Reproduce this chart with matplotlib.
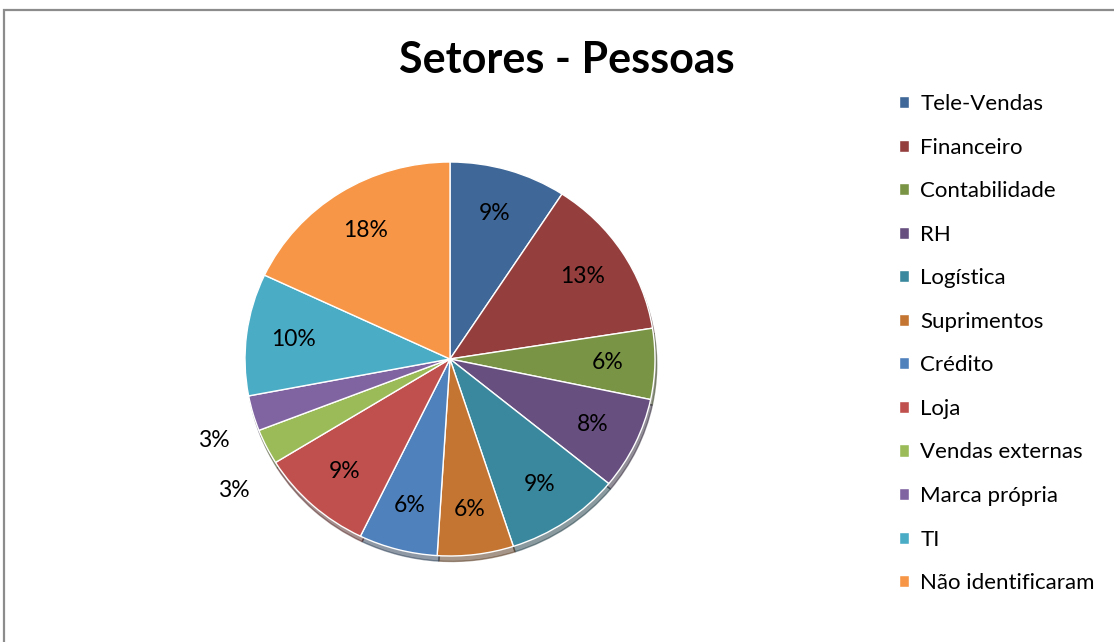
import matplotlib.pyplot as plt
from matplotlib.patches import Rectangle
import numpy as np

plt.rcParams['font.family'] = ['Lato', 'DejaVu Sans']

setores = ["Tele-Vendas", "Financeiro", "Contabilidade", "RH", "Logística",
           "Suprimentos", "Crédito", "Loja", "Vendas externas", "Marca própria",
           "TI", "Não identificaram"]
percentuais = [9.2, 13.3, 5.8, 7.6, 9.1, 6.0, 6.2, 9.0, 2.9, 2.9, 10.0, 18.0]
cores = ["#3F6797", "#943F3D", "#7A9445", "#674F80", "#3A889D", "#C57532",
         "#4F81BD", "#C0504D", "#9BBB59", "#8064A2", "#4BACC6", "#F79646"]

fig = plt.figure(figsize=(11.14, 6.42), dpi=100)

# frame like the Excel chart area (only top/left visible)
fig.patches.append(Rectangle((4 / 1114, -0.1), 1.2, (642 - 10) / 642 + 0.1,
                             transform=fig.transFigure, fill=False,
                             edgecolor="#8C8C8C", linewidth=1.6))

ax = fig.add_axes([(450 - 205) / 1114, (642 - 359 - 197) / 642, 410 / 1114, 394 / 642])
wedges, _ = ax.pie(percentuais, colors=cores, startangle=90, counterclock=False,
                   radius=1, wedgeprops=dict(edgecolor="white", linewidth=1.0),
                   shadow=dict(ox=0.006, oy=-0.02, shade=0.6))
ax.set_aspect("auto")
ax.set_xlim(-1, 1)
ax.set_ylim(-1, 1)

# data labels: inside for big slices, outside for the tiny ones
for w, p in zip(wedges, percentuais):
    ang = np.deg2rad((w.theta1 + w.theta2) / 2)
    if p < 4:
        x, y = 1.5 * np.cos(ang) + 0.29, 1.5 * np.sin(ang)
    else:
        x, y = 0.77 * np.cos(ang), 0.77 * np.sin(ang)
    ax.text(x, y, f"{p:.0f}%", ha="center", va="center", fontsize=16.5, color="black")

fig.text(567 / 1114, 1 - 60 / 642, "Setores - Pessoas", ha="center", va="center",
         fontsize=31, fontweight="bold")

fig.legend(wedges, setores, loc="upper left", bbox_to_anchor=(899 / 1114, 1 - 94 / 642),
           frameon=False, fontsize=16, handlelength=0.46, handleheight=0.46,
           handletextpad=0.5, labelspacing=1.06, borderpad=0, borderaxespad=0)

plt.savefig("out.png", dpi=100)
